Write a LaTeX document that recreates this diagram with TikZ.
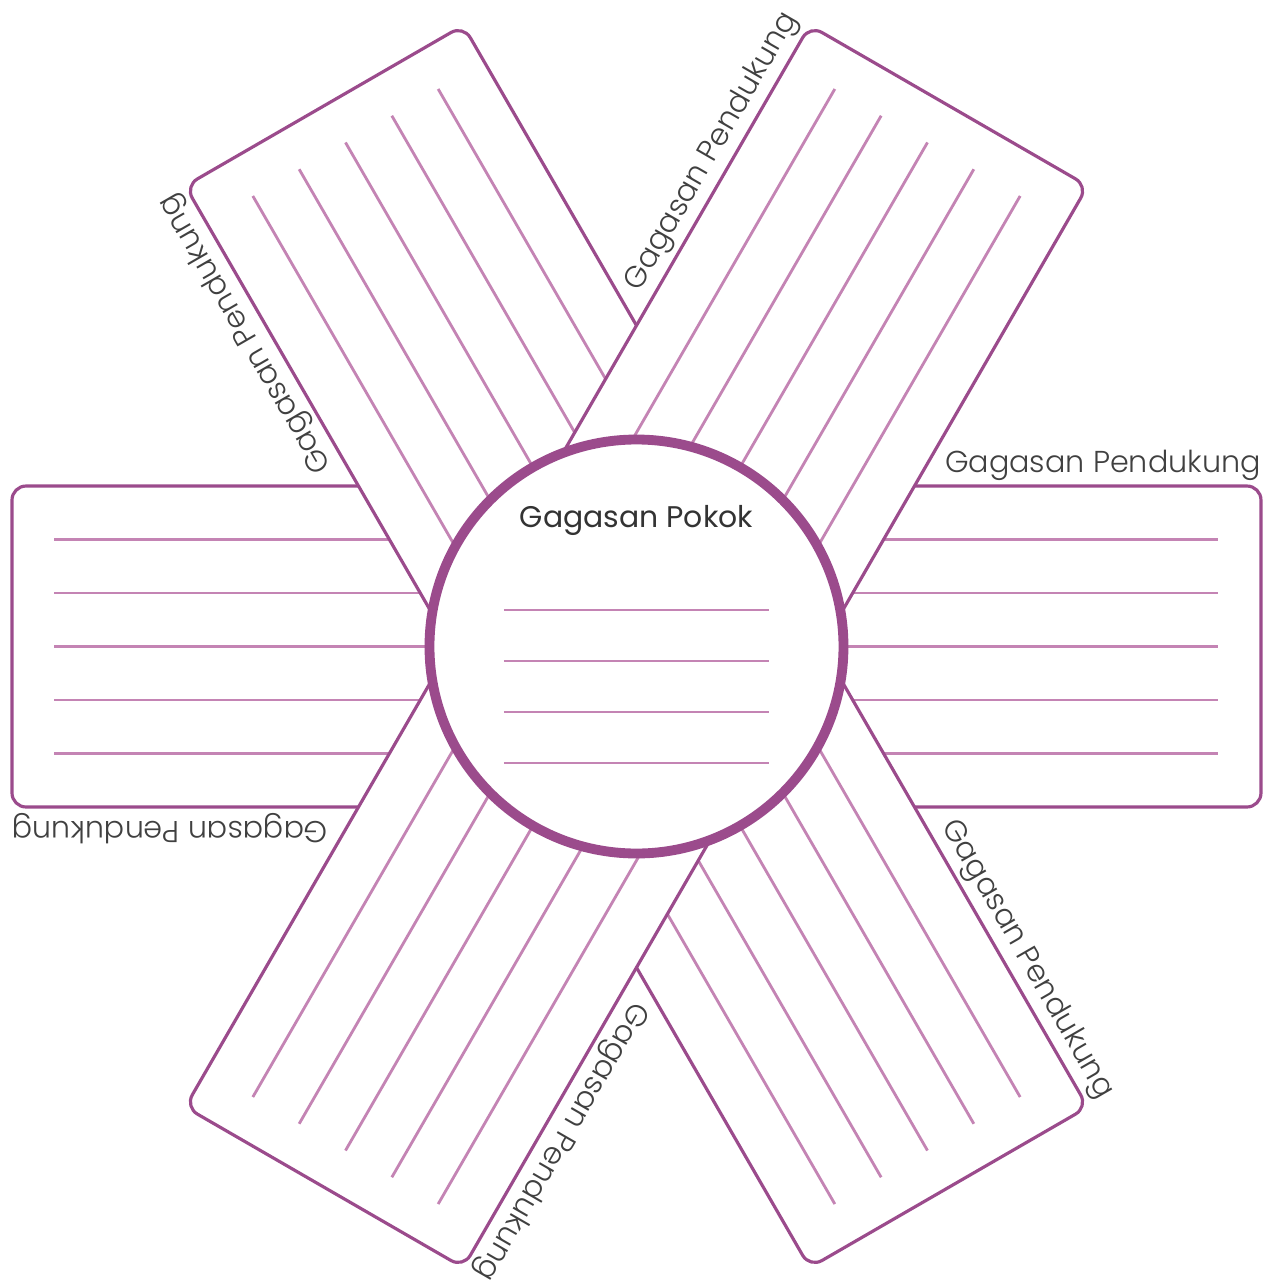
\documentclass[tikz,border=0pt]{standalone}
\usepackage{fontspec}
\setmainfont{Poppins Light}
\newfontfamily\titlefont{Poppins}
\usetikzlibrary{positioning}
\definecolor{ungu}{RGB}{155,75,140}
\definecolor{ungumuda}{RGB}{196,132,180}
\tikzset{
  armbox/.style={draw=ungu, line width=0.9pt, fill=white, rounded corners=4pt, minimum width=12.49cm, minimum height=3.21cm, inner sep=0pt},
  writeline/.style={draw=ungumuda, line width=0.8pt},
  hubcircle/.style={circle, draw=ungu, line width=2.8pt, fill=white, minimum size=4.14cm, inner sep=0pt},
  sidetext/.style={font=\fontsize{8.6}{10}\selectfont, text=black!75, inner sep=0pt, anchor=base east},
  hubtext/.style={font=\titlefont\fontsize{8.5}{10}\selectfont, text=black!80, inner sep=0pt}
}

\begin{document}
\begin{tikzpicture}
  \useasboundingbox (-6.365,-6.395) rectangle (6.365,6.465);

  \foreach \a/\n in {0/barH,120/barA,60/barB}{
    \node[armbox, rotate=\a] (\n) at (0,0) {};
    \begin{scope}[rotate=\a]
      \foreach \k in {-2,...,2}
        \draw[writeline] (-5.82,\k*0.535) -- (5.82,\k*0.535);
    \end{scope}
  }

  \node[hubcircle] (hub) at (0,0) {};
  \node[hubtext] (hubtitle) at (0,1.265) {Gagasan Pokok};
  \foreach \y in {0.365,-0.145,-0.655,-1.165}
    \draw[writeline] (-1.325,\y) -- (1.325,\y);

  \foreach \a in {0,60,...,300}{
    \begin{scope}[rotate=\a]
      \node[sidetext, rotate=\a] (tag\a) at (6.25,1.745) {Gagasan Pendukung};
    \end{scope}
  }
\end{tikzpicture}
\end{document}
